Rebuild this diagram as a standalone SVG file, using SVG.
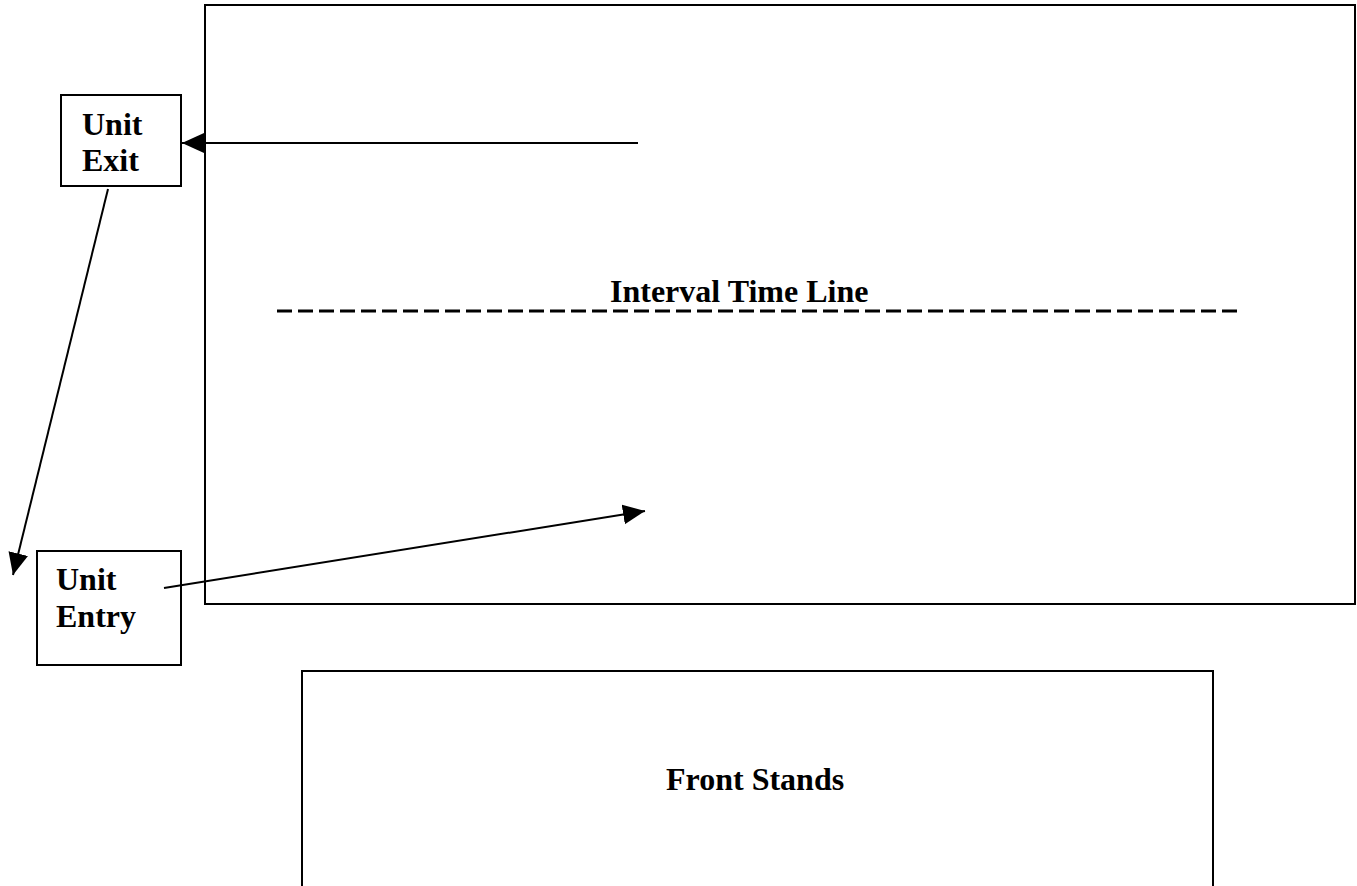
<svg xmlns="http://www.w3.org/2000/svg" width="1357" height="886" viewBox="0 0 1357 886">
<style>
.box{fill:none;stroke:#000;stroke-width:2}
.lbl{font-family:"Liberation Serif","Times New Roman",serif;font-weight:bold;font-size:32px;fill:#000}
.conn{fill:none;stroke:#000;stroke-width:2}
</style>
<defs>
<marker id="arr" markerUnits="userSpaceOnUse" markerWidth="24" markerHeight="22" refX="22" refY="10" orient="auto">
<path d="M0,0 L22,10 L0,20 Z" fill="#000"/>
</marker>
</defs>
<rect width="1357" height="886" fill="#fff"/>
<g id="interval-area">
<rect class="box" x="205" y="5" width="1150" height="599"/>
<text class="lbl" x="610" y="302">Interval Time Line</text>
<line x1="277" y1="311" x2="1237" y2="311" stroke="#000" stroke-width="3" stroke-dasharray="15 6"/>
</g>
<g id="unit-exit">
<rect class="box" x="61" y="95" width="120" height="91"/>
<text class="lbl" x="82" y="135">Unit</text>
<text class="lbl" x="82" y="171">Exit</text>
</g>
<g id="unit-entry">
<rect class="box" x="37" y="551" width="144" height="114"/>
<text class="lbl" x="56" y="590">Unit</text>
<text class="lbl" x="56" y="627">Entry</text>
</g>
<g id="front-stands">
<path class="box" d="M302,886 V671 H1213 V886"/>
<text class="lbl" x="666" y="790">Front Stands</text>
</g>
<g id="connectors">
<line class="conn" x1="638" y1="143" x2="182" y2="143" marker-end="url(#arr)"/>
<line class="conn" x1="108" y1="189" x2="13" y2="575" marker-end="url(#arr)"/>
<line class="conn" x1="164" y1="588" x2="645" y2="511" marker-end="url(#arr)"/>
</g>
</svg>
